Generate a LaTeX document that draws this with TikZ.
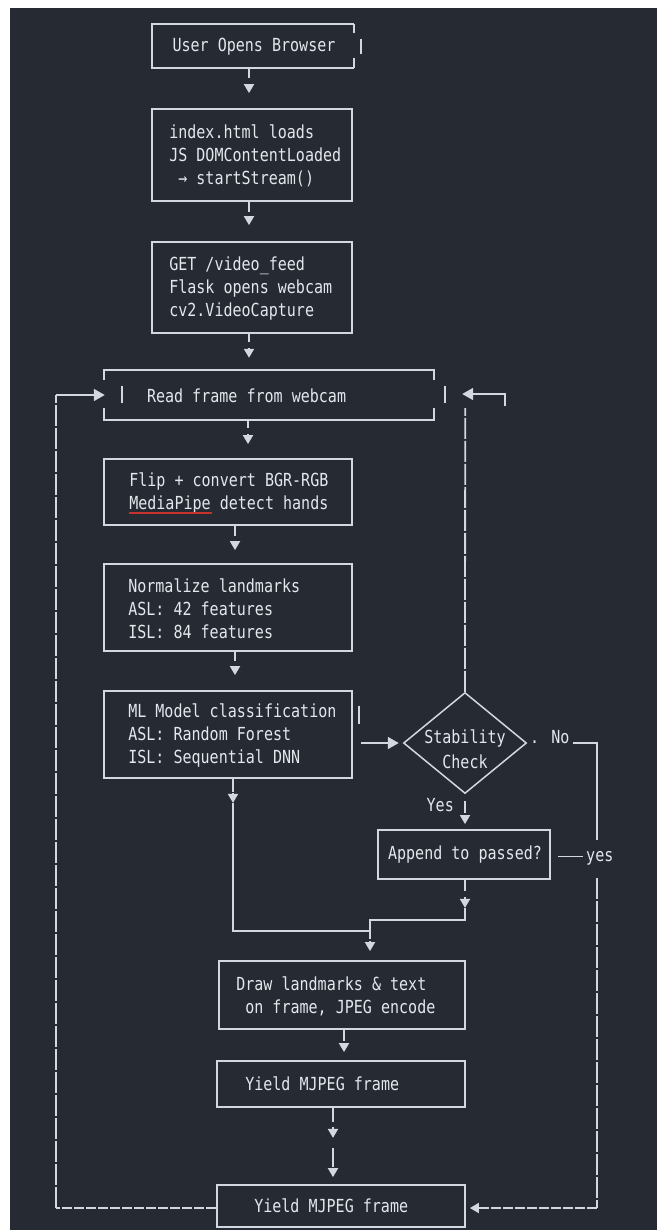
\documentclass[tikz,border=0pt]{standalone}
\usepackage{fontspec}
\newfontfamily\codefont[FakeStretch=0.835,WordSpace={1,0,0}]{DejaVu Sans Mono}
\usetikzlibrary{arrows.meta,shapes.geometric,calc}
\definecolor{bgcol}{HTML}{262A33}
\definecolor{lncol}{HTML}{D3D7DE}
\definecolor{txcol}{HTML}{E4E7EC}
\definecolor{sqcol}{HTML}{C8322C}
\begin{document}
\begin{tikzpicture}[x=1pt,y=-1pt,
  every node/.style={font=\codefont\fontsize{18}{22.8}\selectfont, text=txcol},
  boxnode/.style={draw=lncol, line width=1.8pt, rectangle, inner sep=0pt},
  openbox/.style={draw=none, rectangle, inner sep=0pt},
  txt/.style={inner sep=0pt, align=left, anchor=west},
  wire/.style={draw=lncol, line width=1.8pt},
  vdash/.style={draw=lncol, line width=1.8pt, dash pattern=on 21pt off 2pt},
  hdash/.style={draw=lncol, line width=1.8pt, dash pattern=on 10pt off 2pt},
  tri/.style={draw=lncol, line width=1.8pt, -{Triangle[width=10pt,length=9pt]}},
  trih/.style={draw=lncol, line width=1.8pt, -{Triangle[width=12pt,length=11pt]}},
  lbl/.style={inner sep=0pt}]
\useasboundingbox (0,0) rectangle (657,1230);
\fill[white] (0,0) rectangle (657,1230);
\fill[bgcol] (10,8) rectangle (657,1230);

% ---------- boxes ----------
\node[openbox, minimum width=202pt, minimum height=44pt] (b1) at (253,46) {};
\node[boxnode, minimum width=200pt, minimum height=92pt] (b2) at (252,155) {};
\node[boxnode, minimum width=200pt, minimum height=91pt] (b3) at (252,287.5) {};
\node[openbox, minimum width=330pt, minimum height=50pt] (b4) at (269,395) {};
\node[boxnode, minimum width=248pt, minimum height=66pt] (b5) at (228,492) {};
\node[boxnode, minimum width=248pt, minimum height=87pt] (b6) at (228,607.5) {};
\node[boxnode, minimum width=248pt, minimum height=87pt] (b7) at (228,734.5) {};
\node[diamond, draw=lncol, line width=1.5pt, minimum width=123pt, minimum height=101pt, inner sep=0pt] (d) at (465,743) {};
\node[boxnode, minimum width=172pt, minimum height=49pt] (b8) at (464,854.5) {};
\node[boxnode, minimum width=246pt, minimum height=68pt] (b9) at (342,995) {};
\node[boxnode, minimum width=248pt, minimum height=46pt] (b10) at (341,1084) {};
\node[boxnode, minimum width=248pt, minimum height=42pt] (b11) at (341,1206) {};

% ---------- texts ----------
\node[lbl] (t1) at ($(b1.center)+(1,1)$) {User Opens Browser};
\node[txt] (t2) at ($(b2.west)+(18,1)$) {index.html loads\\JS DOMContentLoaded\\\hphantom{x}→ startStream()};
\node[txt] (t3) at ($(b3.west)+(18,1)$) {GET /video\_feed\\Flask opens webcam\\cv2.VideoCapture};
\node[txt] (t4) at ($(b4.west)+(43,1)$) {Read frame from webcam};
\node[txt] (t5) at ($(b5.west)+(26,1)$) {Flip + convert BGR-RGB\\MediaPipe detect hands};
\node[txt] (t6) at ($(b6.west)+(25,1)$) {Normalize landmarks\\ASL: 42 features\\ISL: 84 features};
\node[txt] (t7) at ($(b7.west)+(25,1)$) {ML Model classification\\ASL: Random Forest\\ISL: Sequential DNN};
\node[align=center, inner sep=0pt] (dt) at (465,749) {Stability\\[2pt]Check};
\node[lbl] (t8) at ($(b8.center)+(1,0)$) {Append to passed?};
\node[txt] (t9) at ($(b9.west)+(18,1)$) {Draw landmarks \& text\\\hphantom{x}on frame, JPEG encode};
\node[txt] (t10) at ($(b10.west)+(29,0)$) {Yield MJPEG frame};
\node[txt] (t11) at ($(b11.west)+(38,0)$) {Yield MJPEG frame};

\node[lbl, anchor=base west] (lno) at (530,743) {. No};
\node[lbl, anchor=base east] (lyes) at (454,811) {Yes};
\node[lbl, anchor=base west] (lyes2) at (586,861) {yes};

% ---------- open box outlines ----------
\draw[wire] (b1.north east) -- (b1.north west) -- (b1.south west) -- (b1.south east);
\draw[wire] (b1.north east) -- ++(0,9);
\draw[wire] (b1.south east) -- ++(0,-10);
\draw[wire] ($(b1.east)+(7,-7)$) -- ++(0,15);

\draw[wire] ($(b4.north west)+(0,10)$) -- (b4.north west) -- (b4.north east) -- ++(0,10);
\draw[wire] ($(b4.south west)+(0,-12)$) -- (b4.south west) -- (b4.south east) -- ++(0,-12);
\draw[wire] ($(b4.west)+(18,-9)$) -- ++(0,17);
\draw[wire] ($(b4.east)+(11,-9)$) -- ++(0,17);

\draw[wire] ($(b7.east)+(6,-29)$) -- ++(0,18);
\draw[draw=sqcol, line width=1.3pt] (129,513) -- (212,513);

% ---------- connectors ----------
% b1 -> b2
\draw[wire] ($(b1.south)+(-4,0)$) -- ++(0,10);
\draw[tri] ($(b1.south)+(-4,16)$) -- ($(b2.north)+(-3,-15)$);
% b2 -> b3
\draw[wire] ($(b2.south)+(-3,0)$) -- ++(0,10);
\draw[tri] ($(b2.south)+(-3,15)$) -- ($(b3.north)+(-3,-16)$);
% b3 -> b4
\draw[wire] ($(b3.south)+(-3,0)$) -- ++(0,8);
\draw[tri] ($(b3.south)+(-3,14)$) -- ($(b4.north)+(-20,-12)$);
% b4 -> b5
\draw[wire] ($(b4.south)+(-21,0)$) -- ++(0,8);
\draw[tri] ($(b4.south)+(-21,14)$) -- ($(b5.north)+(20,-14)$);
% b5 -> b6
\draw[wire] ($(b5.south)+(7,0)$) -- ++(0,10);
\draw[tri] ($(b5.south)+(7,15)$) -- ($(b6.north)+(7,-13)$);
% b6 -> b7
\draw[wire] ($(b6.south)+(7,0)$) -- ++(0,9);
\draw[tri] ($(b6.south)+(7,14)$) -- ($(b7.north)+(7,-15)$);
% b7 -> d
\draw[wire] ($(b7.east |- d.west)+(8,0)$) -- ++(27,0);
\draw[trih] ($(b7.east |- d.west)+(34,0)$) -- ($(d.west)+(-4,0)$);
% d -> b4 (loop back)
\draw[vdash] (d.north) -- ($(b4.south east)+(31,-12)$);
\draw[wire] ($(b4.east)+(71,11)$) -- ($(b4.east)+(71,-1)$) -- ($(b4.east)+(40,-1)$);
\draw[trih] ($(b4.east)+(42,-1)$) -- ($(b4.east)+(28,-1)$);
% d -> b8 (Yes)
\draw[wire] ($(d.south)+(0,7)$) -- ++(0,12);
\draw[tri] ($(d.south)+(0,22)$) -- ($(b8.north)+(1,-5)$);
% d -> b11 (No)
\draw[wire] ($(d.east)+(46,0)$) -- ($(d.east)+(70,0)$) -- ($(d.east)+(70,97)$);
\draw[vdash] ($(b8.east)+(46,23.5)$) -- ($(b8.east |- b11.east)+(46,2)$);
\draw[hdash, -{Triangle[width=10pt,length=9pt]}] ($(b8.east |- b11.east)+(46,2)$) -- ($(b11.east)+(4,2)$);
\draw[wire] ($(b8.east)+(7,2)$) -- ++(25,0);
% b8 -> b9
\draw[wire] ($(b8.south)+(1,0)$) -- ++(0,11);
\draw[tri] ($(b8.south)+(1,17)$) -- ++(0,11);
\draw[wire] ($(b8.south)+(1,28)$) -- ++(0,12) -| ($(b9.north)+(28,-21)$);
\draw[tri] ($(b9.north)+(28,-19)$) -- ($(b9.north)+(28,-9)$);
% b7 -> b9
\draw[wire] ($(b7.south)+(5,0)$) -- ++(0,13);
\draw[tri] ($(b7.south)+(5,14)$) -- ++(0,10);
\draw[wire] ($(b7.south)+(5,24)$) |- ($(b9.north)+(28,-29)$);
% b9 -> b10
\draw[wire] ($(b9.south)+(2,0)$) -- ++(0,11);
\draw[tri] ($(b9.south)+(2,13)$) -- ($(b10.north)+(3,-8)$);
% b10 -> b11
\draw[wire] ($(b10.south)+(-8,0)$) -- ++(0,14);
\draw[tri] ($(b10.south)+(-8,19)$) -- ++(0,11);
\draw[wire] ($(b10.south)+(-8,40)$) -- ++(0,19);
\draw[tri] ($(b10.south)+(-8,60)$) -- ($(b11.north)+(-8,-7)$);
% b11 -> b4 (loop back, left)
\draw[hdash] ($(b11.west)+(0,2)$) -- ($(b4.west |- b11.west)+(-48,2)$);
\draw[vdash] ($(b4.west |- b11.west)+(-48,2)$) -- ($(b4.west)+(-48,0)$);
\draw[wire] ($(b4.west)+(-48,0)$) -- ($(b4.west)+(-10,0)$);
\draw[trih] ($(b4.west)+(-12,0)$) -- ($(b4.west)+(1,0)$);
\end{tikzpicture}
\end{document}
